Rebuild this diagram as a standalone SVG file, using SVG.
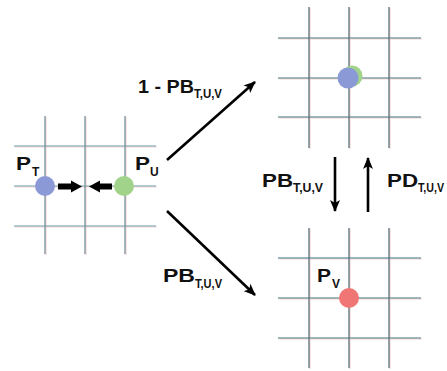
<svg xmlns="http://www.w3.org/2000/svg" width="447" height="371" viewBox="0 0 447 371">
<defs>
<style>
.g line{stroke:#4c6570;stroke-width:1.2}
.gr line{stroke:#f4d4d0;stroke-width:1.2}
.lbl{font-family:"Liberation Sans",Arial,sans-serif;font-weight:bold;fill:#111}
.main{font-size:18px}
.sub{font-size:12px}
.arr{stroke:#000;stroke-width:2.6;fill:none}
</style>
<marker id="ah" viewBox="0 0 12 10" refX="11" refY="5" markerWidth="12" markerHeight="10" markerUnits="userSpaceOnUse" orient="auto">
<path d="M0,0 L12,5 L0,10 L3,5 Z" fill="#000"/>
</marker>
</defs>
<rect width="447" height="371" fill="#fff"/>

<g id="grid-left">
<g class="gr" transform="translate(1,1)">
<line x1="45" y1="116" x2="45" y2="254"/><line x1="85" y1="116" x2="85" y2="254"/><line x1="125" y1="116" x2="125" y2="254"/>
<line x1="14" y1="146" x2="156" y2="146"/><line x1="14" y1="186" x2="156" y2="186"/><line x1="14" y1="226" x2="156" y2="226"/>
</g>
<g class="g">
<line x1="45" y1="116" x2="45" y2="254" style="stroke:#6b8793"/><line x1="85" y1="116" x2="85" y2="254" style="stroke:#6b8793"/><line x1="125" y1="116" x2="125" y2="254" style="stroke:#6b8793"/>
<line x1="14" y1="146" x2="156" y2="146" style="stroke:#6e9aaa"/><line x1="14" y1="186" x2="156" y2="186" style="stroke:#6e9aaa"/><line x1="14" y1="226" x2="156" y2="226" style="stroke:#6e9aaa"/>
</g>
<circle cx="45" cy="186" r="10" fill="#8b9ad6"/>
<circle cx="124" cy="186" r="10" fill="#a2d38a"/>
<path d="M58,183.5 H71 V180.5 L82,186.5 L71,192.5 V189.5 H58 Z" fill="#000"/>
<path d="M112,183.5 H100 V180.5 L89,186.5 L100,192.5 V189.5 H112 Z" fill="#000"/>
<text class="lbl main" x="16" y="170" textLength="15" lengthAdjust="spacingAndGlyphs">P</text>
<text class="lbl sub" x="32" y="176">T</text>
<text class="lbl main" x="135" y="170" textLength="15" lengthAdjust="spacingAndGlyphs">P</text>
<text class="lbl sub" x="150" y="176">U</text>
</g>

<g id="grid-top">
<g class="gr" transform="translate(1,1)">
<line x1="309" y1="7" x2="309" y2="148"/><line x1="349" y1="7" x2="349" y2="148"/><line x1="389" y1="7" x2="389" y2="148"/>
<line x1="278" y1="38" x2="421" y2="38"/><line x1="278" y1="78" x2="421" y2="78"/><line x1="278" y1="117" x2="421" y2="117"/>
</g>
<g class="g">
<line x1="309" y1="7" x2="309" y2="148"/><line x1="349" y1="7" x2="349" y2="148"/><line x1="389" y1="7" x2="389" y2="148"/>
<line x1="278" y1="38" x2="421" y2="38" style="stroke:#44737f"/><line x1="278" y1="78" x2="421" y2="78" style="stroke:#44737f"/><line x1="278" y1="117" x2="421" y2="117" style="stroke:#44737f"/>
</g>
<circle cx="352" cy="76" r="10.5" fill="#a2d38a"/>
<circle cx="348" cy="78" r="10.5" fill="#8b9ad6"/>
</g>

<g id="grid-bottom">
<g class="gr" transform="translate(1,1)">
<line x1="309" y1="228" x2="309" y2="368"/><line x1="349" y1="228" x2="349" y2="368"/><line x1="389" y1="228" x2="389" y2="368"/>
<line x1="278" y1="258" x2="421" y2="258"/><line x1="278" y1="298" x2="421" y2="298"/><line x1="278" y1="338" x2="421" y2="338"/>
</g>
<g class="g">
<line x1="309" y1="228" x2="309" y2="368"/><line x1="349" y1="228" x2="349" y2="368"/><line x1="389" y1="228" x2="389" y2="368"/>
<line x1="278" y1="258" x2="421" y2="258" style="stroke:#3a7585"/><line x1="278" y1="298" x2="421" y2="298" style="stroke:#44737f"/><line x1="278" y1="338" x2="421" y2="338" style="stroke:#44737f"/>
</g>
<circle cx="349" cy="298" r="10" fill="#f07676"/>
<text class="lbl main" x="317" y="282" textLength="14" lengthAdjust="spacingAndGlyphs">P</text>
<text class="lbl sub" x="332" y="288">V</text>
</g>

<g id="connectors">
<path class="arr" d="M167,160 L255,82" marker-end="url(#ah)"/>
<path class="arr" d="M167,211 L255,295" marker-end="url(#ah)"/>
<path class="arr" d="M335,157 V211" marker-end="url(#ah)"/>
<path class="arr" d="M368,212 V158" marker-end="url(#ah)"/>
</g>

<g id="labels">
<text class="lbl main" x="138" y="93" textLength="56" lengthAdjust="spacingAndGlyphs">1 - PB</text>
<text class="lbl sub" x="194" y="98" textLength="28" lengthAdjust="spacingAndGlyphs">T,U,V</text>
<text class="lbl main" x="163" y="282" textLength="32" lengthAdjust="spacingAndGlyphs">PB</text>
<text class="lbl sub" x="195" y="288" textLength="27" lengthAdjust="spacingAndGlyphs">T,U,V</text>
<text class="lbl main" x="262" y="187" textLength="31" lengthAdjust="spacingAndGlyphs">PB</text>
<text class="lbl sub" x="293" y="192" textLength="30" lengthAdjust="spacingAndGlyphs">T,U,V</text>
<text class="lbl main" x="387" y="187" textLength="31" lengthAdjust="spacingAndGlyphs">PD</text>
<text class="lbl sub" x="418" y="192" textLength="26" lengthAdjust="spacingAndGlyphs">T,U,V</text>
</g>
</svg>
